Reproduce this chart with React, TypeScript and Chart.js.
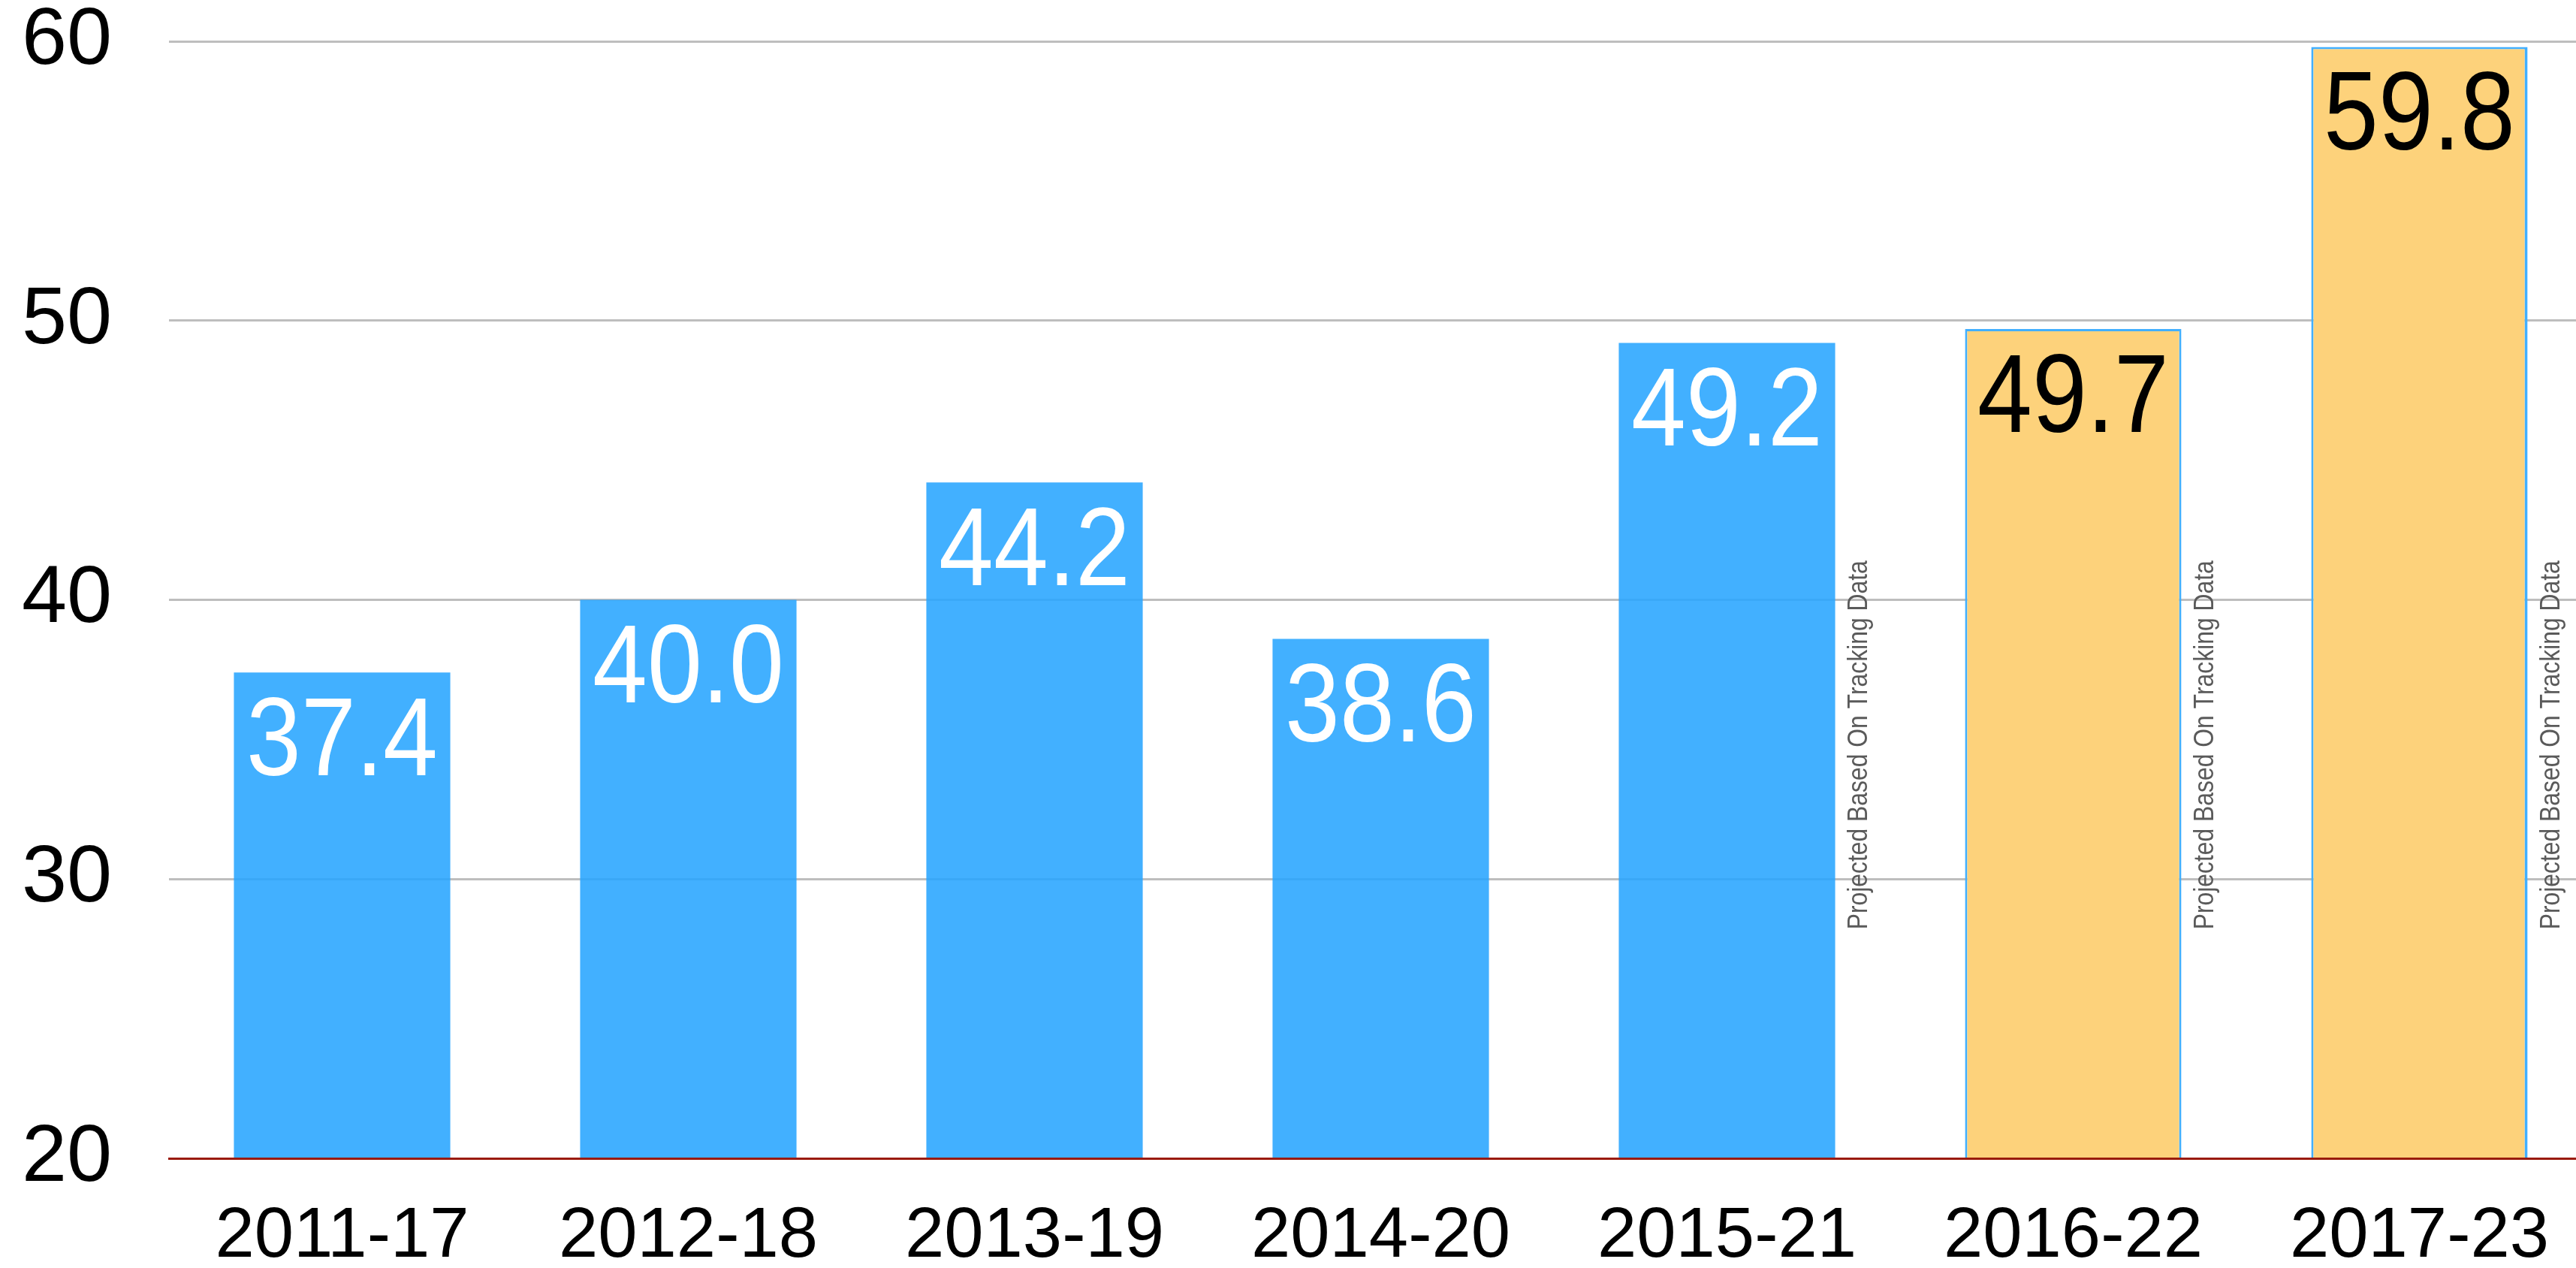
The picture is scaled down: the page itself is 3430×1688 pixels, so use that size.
import React, { useEffect, useRef } from "react";
import { Chart, registerables } from "chart.js";

Chart.register(...registerables);

const categories = ["2011-17", "2012-18", "2013-19", "2014-20", "2015-21", "2016-22", "2017-23"];
const values = [37.4, 40.0, 44.2, 38.6, 49.2, 49.7, 59.8];
const projected = [false, false, false, false, false, true, true];
const noteAfter = [false, false, false, false, true, true, true];
const noteText = "Projected Based On Tracking Data";
const yTicks = [20, 30, 40, 50, 60];
const noteCenterValue = 34.8;

const BLUE = "rgba(40,165,255,0.88)";
const ORANGE = "#FDD27B";
const BORDER_BLUE = "#42AFFF";
const FONT = "'Liberation Sans', Arial, Helvetica, sans-serif";

const CANVAS_W = 3452;
const CANVAS_H = 1688;

const labelPlugin = {
  id: "barLabels",
  afterDatasetsDraw(chart: any) {
    const ctx = chart.ctx;
    const meta = chart.getDatasetMeta(0);
    const yScale = chart.scales.y;
    meta.data.forEach((bar: any, i: number) => {
      const { x, y, width } = bar.getProps(["x", "y", "width"], true);
      ctx.save();
      ctx.font = `148px ${FONT}`;
      ctx.fillStyle = projected[i] ? "#000000" : "#ffffff";
      ctx.textAlign = "center";
      ctx.textBaseline = "middle";
      ctx.translate(x, y + 96);
      ctx.scale(0.885, 1);
      ctx.fillText(values[i].toFixed(1), 0, 0);
      ctx.restore();
      if (noteAfter[i]) {
        ctx.save();
        ctx.font = `36px ${FONT}`;
        ctx.fillStyle = "#5a5a5a";
        ctx.textAlign = "center";
        ctx.textBaseline = "alphabetic";
        ctx.translate(x + width / 2 + 42, yScale.getPixelForValue(noteCenterValue));
        ctx.rotate(-Math.PI / 2);
        ctx.scale(0.885, 1);
        ctx.fillText(noteText, 0, 0);
        ctx.restore();
      }
    });
  },
};

export default function App() {
  const canvasRef = useRef<HTMLCanvasElement | null>(null);

  useEffect(() => {
    if (!canvasRef.current) return;
    const chart = new Chart(canvasRef.current, {
      type: "bar",
      data: {
        labels: categories,
        datasets: [
          {
            data: values,
            backgroundColor: projected.map((p) => (p ? ORANGE : BLUE)),
            borderColor: projected.map((p) => (p ? BORDER_BLUE : "rgba(0,0,0,0)")),
            borderWidth: (c: any) => {
              const i = c.dataIndex;
              if (i === 6) return { top: 3, left: 3, right: 4, bottom: 7 };
              if (i === 5) return { top: 3, left: 3, right: 3, bottom: 0 };
              return 0;
            },
            borderSkipped: false,
            barPercentage: 0.625,
            categoryPercentage: 1,
          } as any,
        ],
      },
      options: {
        responsive: false,
        animation: false,
        devicePixelRatio: 1,
        layout: { padding: { top: 55, left: 29, right: 0, bottom: 0 } },
        plugins: {
          legend: { display: false },
          tooltip: { enabled: false },
        },
        scales: {
          x: {
            grid: { display: false, drawTicks: false },
            border: { display: true, color: "#9A1A0A", width: 3, z: 1 },
            ticks: {
              color: "#000000",
              font: { family: FONT, size: 94, lineHeight: 1.2 },
              padding: 49,
              maxRotation: 0,
              autoSkip: false,
            },
            afterFit: (scale: any) => {
              scale.height = 146;
            },
          },
          y: {
            min: 20,
            max: 60,
            grid: { color: "#BEBEBE", lineWidth: 3, drawTicks: false },
            border: { display: false },
            ticks: {
              color: "#000000",
              font: { family: FONT, size: 108, lineHeight: 1 },
              padding: 0,
              crossAlign: "far",
            },
            afterBuildTicks: (scale: any) => {
              scale.ticks = yTicks.map((v) => ({ value: v }));
            },
            afterFit: (scale: any) => {
              scale.width = 196;
            },
          },
        },
      },
      plugins: [labelPlugin],
    } as any);
    return () => chart.destroy();
  }, []);

  return (
    <div
      style={{
        position: "fixed",
        left: 0,
        top: 0,
        width: "100vw",
        height: "100vh",
        overflow: "hidden",
        background: "#ffffff",
      }}
    >
      <canvas
        ref={canvasRef}
        width={CANVAS_W}
        height={CANVAS_H}
        style={{ display: "block", width: CANVAS_W, height: CANVAS_H }}
      />
    </div>
  );
}
